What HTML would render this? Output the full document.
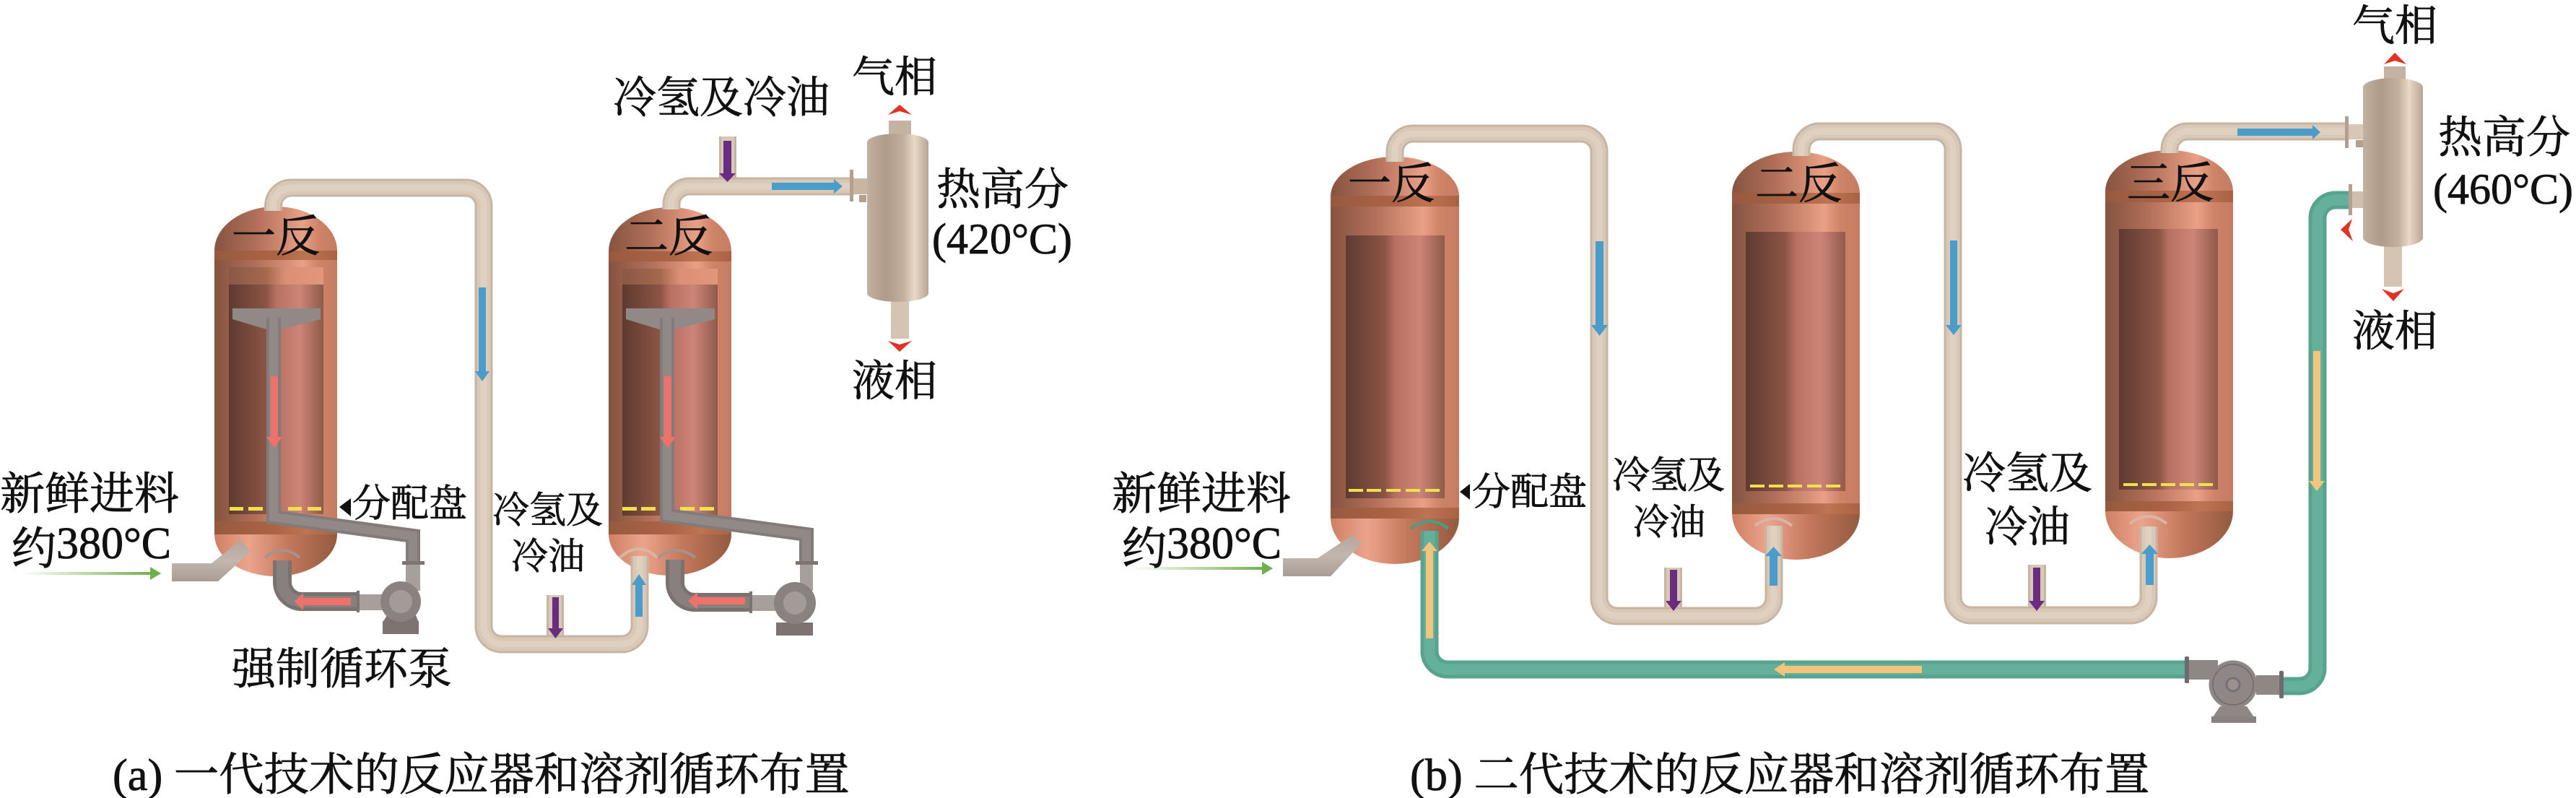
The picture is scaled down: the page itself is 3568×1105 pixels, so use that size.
<!DOCTYPE html>
<html><head><meta charset="utf-8"><style>
html,body{margin:0;padding:0;background:#fff}
svg{display:block}
text{font-family:"Liberation Serif","Noto Serif CJK SC",serif;fill:#111;stroke:#111;stroke-width:.8}
.pb1,.pb2,.pb3,.pg1,.pg2,.pc1,.pc2,.pd1,.pd2{fill:none}
.pb1{stroke:#c8b5a1;stroke-width:25}
.pb2{stroke:#d8c8b7;stroke-width:19}
.pb3{stroke:#dfd0c0;stroke-width:9}
.pg1{stroke:#57a38d;stroke-width:25}
.pg2{stroke:#65b09a;stroke-width:15}
.pc1{stroke:#837b79;stroke-width:20}
.pc2{stroke:#918988;stroke-width:12}
.pd1{stroke:#7a7270;stroke-width:26}
.pd2{stroke:#87807e;stroke-width:16}
.band{fill:url(#bd)}
.dash{fill:#f0e050}
.blue{fill:#4a9ccb}.red{fill:#f0706a}.pur{fill:#6a2c80}.yel{fill:#f2c47c}.chev{fill:#e03322}
.gray{fill:#918988}
</style></head><body>
<svg xmlns="http://www.w3.org/2000/svg" width="3568" height="1105" viewBox="0 0 3568 1105">
<defs>
<linearGradient id="bd"><stop offset="0" stop-color="#975a3f"/><stop offset=".5" stop-color="#ac6444"/><stop offset=".75" stop-color="#bd7453"/><stop offset="1" stop-color="#a96242"/></linearGradient>
<linearGradient id="rb"><stop offset="0" stop-color="#85543f"/><stop offset=".35" stop-color="#b3705a"/><stop offset=".72" stop-color="#e9a086"/><stop offset=".85" stop-color="#cf8367"/><stop offset="1" stop-color="#c47c62"/></linearGradient>
<linearGradient id="rd"><stop offset="0" stop-color="#cf7f62"/><stop offset=".28" stop-color="#eba48c"/><stop offset=".6" stop-color="#c4785b"/><stop offset="1" stop-color="#935a41"/></linearGradient>
<linearGradient id="ri"><stop offset="0" stop-color="#5f3a30"/><stop offset=".4" stop-color="#8c5545"/><stop offset=".5" stop-color="#b87062"/><stop offset=".75" stop-color="#cd8578"/><stop offset="1" stop-color="#8f5a4a"/></linearGradient>
<linearGradient id="ru"><stop offset="0" stop-color="#8a5844"/><stop offset=".4" stop-color="#a5694f"/><stop offset=".6" stop-color="#dc8f75"/><stop offset="1" stop-color="#e2967c"/></linearGradient>
<linearGradient id="sep"><stop offset="0" stop-color="#c2b1a0"/><stop offset=".3" stop-color="#af9b89"/><stop offset=".6" stop-color="#c4b09d"/><stop offset=".77" stop-color="#ead9c7"/><stop offset="1" stop-color="#b8a594"/></linearGradient>
<linearGradient id="gi"><stop offset="0" stop-color="#fff"/><stop offset=".35" stop-color="#cfe3bd"/><stop offset="1" stop-color="#6fb04e"/></linearGradient>
<linearGradient id="inl" x1="0" y1="0" x2="0" y2="1"><stop offset="0" stop-color="#b3a69e"/><stop offset=".5" stop-color="#c2b6ae"/><stop offset="1" stop-color="#a99c94"/></linearGradient>
<path id="pa1" d="M378.5 292V285A25 25 0 0 1 403.5 260H645A25 25 0 0 1 670 285V867A25 25 0 0 0 695 892H861A25 25 0 0 0 886 867V770"/>
<path id="pa2" d="M930 290V283A25 25 0 0 1 955 258H1183"/>
<path id="pb1" d="M1932 224V210A25 25 0 0 1 1957 185H2190A25 25 0 0 1 2215 210V828A25 25 0 0 0 2240 853H2432A25 25 0 0 0 2457 828V728"/>
<path id="pb2" d="M2495 216V207A25 25 0 0 1 2520 182H2680A25 25 0 0 1 2705 207V827A25 25 0 0 0 2730 852H2951A25 25 0 0 0 2976 827V729"/>
<path id="pb3" d="M3005 212V207A25 25 0 0 1 3030 182H3251"/>
<path id="g1" d="M1980 735V902A25 25 0 0 0 2005 927H3028"/>
<path id="g2" d="M3161 950H3185A25 25 0 0 0 3210 925V302A25 25 0 0 1 3235 277H3255"/>
<path id="ca1" d="M391 776V806A27 27 0 0 0 418 833H497"/>
<path id="ca2" d="M935 775V807A27 27 0 0 0 962 834H1040"/>
<path id="cb1" d="M379 440V716L572 742V778"/>
<path id="cb2" d="M924 440V714L1117 740V778"/>
</defs>
<rect width="3568" height="1105" fill="#fff"/>

<!-- ===== Reactor a1 ===== -->
<path d="M297 347A85 61 0 0 1 467 347Z" fill="url(#rb)"/>
<rect x="297" y="347" width="170" height="393" fill="url(#rb)"/>
<path d="M297 740A85 58 0 0 0 467 740Z" fill="url(#rd)"/>
<rect class="band" x="297" y="347" width="170" height="13"/>
<rect class="band" x="297" y="722" width="170" height="18"/>
<rect x="317" y="370" width="131" height="26" fill="url(#ru)"/>
<rect x="317" y="394" width="131" height="318" fill="url(#ri)"/>
<!-- ===== Reactor a2 ===== -->
<path d="M843 348A85 61 0 0 1 1013 348Z" fill="url(#rb)"/>
<rect x="843" y="348" width="170" height="392" fill="url(#rb)"/>
<path d="M843 740A85 57 0 0 0 1013 740Z" fill="url(#rd)"/>
<rect class="band" x="843" y="348" width="170" height="14"/>
<rect class="band" x="843" y="722" width="170" height="18"/>
<rect x="862" y="372" width="132" height="24" fill="url(#ru)"/>
<rect x="862" y="394" width="132" height="320" fill="url(#ri)"/>
<!-- dashes a -->
<g class="dash">
<rect x="318" y="702" width="19" height="5"/><rect x="344" y="702" width="20" height="5"/><rect x="399" y="702" width="19" height="5"/><rect x="426" y="702" width="19" height="5"/>
<rect x="862" y="702" width="20" height="5"/><rect x="888" y="702" width="20" height="5"/><rect x="942" y="702" width="20" height="5"/><rect x="969" y="702" width="20" height="5"/>
</g>

<!-- arcs a -->
<path d="M367 772Q391 752 415 772" fill="none" stroke="#a9908a" stroke-width="4"/>
<path d="M912 772Q937 752 963 772" fill="none" stroke="#a9908a" stroke-width="4"/>
<path d="M859 772Q885 748 910 772" fill="none" stroke="#d9b5a6" stroke-width="4"/>

<!-- inlet a -->
<polygon points="238,780 293,780 333,748 347,764 302,805 238,805" fill="url(#inl)"/>
<!-- funnels and circulation pipe a -->
<polygon class="gray" points="322,427 444,427 444,442 389,456 369,456 322,442"/>
<polygon class="gray" points="867,427 990,427 990,442 935,456 913,456 867,442"/>
<use href="#cb1" class="pc1"/><use href="#cb1" class="pc2"/>
<use href="#cb2" class="pc1"/><use href="#cb2" class="pc2"/>
<use href="#ca1" class="pd1"/><use href="#ca1" class="pd2"/>
<use href="#ca2" class="pd1"/><use href="#ca2" class="pd2"/>
<!-- pump a1 -->
<rect x="562" y="778" width="20" height="40" fill="#a79f9c"/>
<rect x="557" y="777" width="31" height="5" fill="#7d7472"/>
<rect x="497" y="823" width="40" height="22" fill="#a79f9c"/>
<rect x="494" y="818" width="4" height="30" fill="#7d7472"/>
<polygon points="536,852 576,852 580,862 530,862" fill="#7d7472"/>
<rect x="530" y="860" width="50" height="18" fill="#7d7472"/>
<circle cx="555" cy="833" r="28" fill="#8a8280"/>
<circle cx="555" cy="833" r="16" fill="#a39b98"/>
<!-- pump a2 -->
<rect x="1108" y="778" width="18" height="40" fill="#a79f9c"/>
<rect x="1102" y="777" width="31" height="5" fill="#7d7472"/>
<rect x="1042" y="824" width="34" height="22" fill="#a79f9c"/>
<rect x="1038" y="819" width="4" height="30" fill="#7d7472"/>
<rect x="1075" y="862" width="51" height="18" fill="#7d7472"/>
<circle cx="1101" cy="835" r="29" fill="#8a8280"/>
<circle cx="1101" cy="835" r="16" fill="#a39b98"/>

<!-- hot pipes a -->
<rect x="757" y="824" width="24" height="60" fill="#c8b5a1"/><rect x="760" y="824" width="18" height="60" fill="#d8c8b7"/>
<use href="#pa1" class="pb1"/><use href="#pa1" class="pb2"/><use href="#pa1" class="pb3"/>
<rect x="996" y="189" width="24" height="68" fill="#c8b5a1"/><rect x="999" y="189" width="18" height="68" fill="#d8c8b7"/>
<use href="#pa2" class="pb1"/><use href="#pa2" class="pb2"/><use href="#pa2" class="pb3"/>

<!-- separator a -->
<rect x="1231" y="167" width="31" height="22" fill="#c4b3a2"/>
<rect x="1234" y="415" width="25" height="54" fill="#d5c4b2"/>
<rect x="1181" y="247" width="24" height="22" fill="#c9b6a2"/>
<rect x="1177" y="235" width="5" height="44" fill="#b3a08e"/>
<rect x="1190" y="270" width="10" height="10" fill="#b3a08e"/>
<path d="M1201 197A42.5 12 0 0 1 1286 197V406A42.5 12 0 0 1 1201 406Z" fill="url(#sep)"/>

<!-- arrows a -->
<polygon class="blue" points="663,398 673,398 673,514 678,514 668,528 658,514 663,514"/>
<polygon class="blue" points="880,854 890,854 890,810 895,810 885,795 875,810 880,810"/>
<polygon class="blue" points="1069,253 1155,253 1155,248 1167,258 1155,268 1155,263 1069,263"/>
<polygon class="pur" points="765,827 774,827 774,870 780,870 769.5,884 759,870 765,870"/>
<polygon class="pur" points="1002,195 1013,195 1013,240 1019,240 1007.5,252 996,240 1002,240"/>
<polygon class="red" points="375,521 385,521 385,605 391,605 380,620 369,605 375,605"/>
<polygon class="red" points="920,521 930,521 930,605 936,605 925,620 914,605 920,605"/>
<polygon class="red" points="486,828 420,828 420,821 408,833 420,845 420,838 486,838"/>
<polygon class="red" points="1032,827 966,827 966,820 953,832 966,844 966,837 1032,837"/>
<polygon class="chev" points="1246,145 1263,159 1246,154 1230,159"/>
<polygon class="chev" points="1230,472 1246,477 1263,472 1246,487"/>
<rect x="29" y="792" width="184" height="4" fill="url(#gi)"/>
<polygon points="208,785 223,794 208,803" fill="#6fb04e"/>
<polygon points="486,690 486,715 470,702" fill="#111"/>

<!-- ===== Reactor b1 ===== -->
<path d="M1843 272A89 55 0 0 1 2021 272Z" fill="url(#rb)"/>
<rect x="1843" y="272" width="178" height="446" fill="url(#rb)"/>
<path d="M1843 717A89 64 0 0 0 2021 717Z" fill="url(#rd)"/>
<rect class="band" x="1843" y="271" width="178" height="15"/>
<rect class="band" x="1843" y="703" width="178" height="15"/>
<rect x="1864" y="326" width="137" height="364" fill="url(#ri)"/>
<!-- Reactor b2 -->
<path d="M2399 268A88.5 58 0 0 1 2576 268Z" fill="url(#rb)"/>
<rect x="2399" y="268" width="177" height="444" fill="url(#rb)"/>
<path d="M2399 711A88.5 64 0 0 0 2576 711Z" fill="url(#rd)"/>
<rect class="band" x="2399" y="267" width="177" height="15"/>
<rect class="band" x="2399" y="697" width="177" height="15"/>
<rect x="2418" y="321" width="138" height="359" fill="url(#ri)"/>
<!-- Reactor b3 -->
<path d="M2916 265A88.5 57 0 0 1 3093 265Z" fill="url(#rb)"/>
<rect x="2916" y="265" width="177" height="444" fill="url(#rb)"/>
<path d="M2916 708A88.5 65 0 0 0 3093 708Z" fill="url(#rd)"/>
<rect class="band" x="2916" y="264" width="177" height="16"/>
<rect class="band" x="2916" y="694" width="177" height="14"/>
<rect x="2935" y="317" width="137" height="361" fill="url(#ri)"/>
<!-- dashes b -->
<g class="dash">
<rect x="1868" y="677" width="20" height="4"/><rect x="1893" y="677" width="20" height="4"/><rect x="1920" y="677" width="20" height="4"/><rect x="1947" y="677" width="20" height="4"/><rect x="1974" y="677" width="20" height="4"/>
<rect x="2424" y="671" width="20" height="4"/><rect x="2450" y="671" width="20" height="4"/><rect x="2476" y="671" width="20" height="4"/><rect x="2503" y="671" width="20" height="4"/><rect x="2529" y="671" width="20" height="4"/>
<rect x="2941" y="669" width="20" height="4"/><rect x="2967" y="669" width="20" height="4"/><rect x="2993" y="669" width="20" height="4"/><rect x="3019" y="669" width="20" height="4"/><rect x="3045" y="669" width="20" height="4"/>
</g>
<!-- arcs b -->
<path d="M1954 732Q1980 712 2006 732" fill="none" stroke="#4f9c85" stroke-width="4"/>
<path d="M2431 728Q2457 708 2482 728" fill="none" stroke="#d9b5a6" stroke-width="4"/>
<path d="M2950 725Q2976 705 3001 725" fill="none" stroke="#d9b5a6" stroke-width="4"/>
<!-- inlet b -->
<polygon points="1777,773 1825,773 1873,741 1886,752 1843,798 1777,798" fill="url(#inl)"/>

<!-- hot pipes b -->
<rect x="2305" y="786" width="25" height="60" fill="#c8b5a1"/><rect x="2308" y="786" width="19" height="60" fill="#d8c8b7"/>
<rect x="2809" y="782" width="25" height="60" fill="#c8b5a1"/><rect x="2812" y="782" width="19" height="60" fill="#d8c8b7"/>
<use href="#pb1" class="pb1"/><use href="#pb1" class="pb2"/><use href="#pb1" class="pb3"/>
<use href="#pb2" class="pb1"/><use href="#pb2" class="pb2"/><use href="#pb2" class="pb3"/>
<use href="#pb3" class="pb1"/><use href="#pb3" class="pb2"/><use href="#pb3" class="pb3"/>
<!-- green -->
<use href="#g1" class="pg1"/><use href="#g1" class="pg2"/>
<use href="#g2" class="pg1"/><use href="#g2" class="pg2"/>
<!-- pump b -->
<rect x="3026" y="909" width="6" height="37" rx="2" fill="#6e6a70"/>
<rect x="3032" y="914" width="40" height="27" fill="#8f8785"/>
<rect x="3125" y="935" width="33" height="27" fill="#8f8785"/>
<rect x="3157" y="929" width="6" height="38" rx="2" fill="#6e6a70"/>
<polygon points="3075,978 3112,978 3122,993 3065,993" fill="#8f8785"/>
<rect x="3063" y="992" width="62" height="9" fill="#8a8280"/>
<circle cx="3093" cy="948" r="33.5" fill="#8f8785"/>
<circle cx="3093" cy="948" r="28" fill="#8f8785" stroke="#6e6a70" stroke-width="1.5"/>
<circle cx="3093" cy="948" r="9" fill="#9a9290" stroke="#757078" stroke-width="3"/>

<!-- separator b -->
<rect x="3302" y="92" width="30" height="22" fill="#c4b3a2"/>
<rect x="3302" y="335" width="25" height="62" fill="#d5c4b2"/>
<rect x="3253" y="172" width="28" height="21" fill="#d8c7b5"/>
<rect x="3248" y="161" width="5" height="44" fill="#b3a08e"/>
<rect x="3263" y="194" width="10" height="10" fill="#b3a08e"/>
<rect x="3257" y="265" width="24" height="23" fill="#d0bfad"/>
<rect x="3253" y="255" width="5" height="43" fill="#b3a08e"/>
<path d="M3273 121A41.5 13 0 0 1 3356 121V329A41.5 13 0 0 1 3273 329Z" fill="url(#sep)"/>

<!-- arrows b -->
<polygon class="blue" points="2210,334 2221,334 2221,450 2227,450 2215.5,465 2204,450 2210,450"/>
<polygon class="blue" points="2701,333 2711,333 2711,450 2717,450 2706,464 2695,450 2701,450"/>
<polygon class="blue" points="2451,811 2462,811 2462,770 2468,770 2456.5,757 2445,770 2451,770"/>
<polygon class="blue" points="2972,810 2983,810 2983,767 2989,767 2977.5,754 2966,767 2972,767"/>
<polygon class="blue" points="3099,178 3203,178 3203,173 3214,183 3203,193 3203,188 3099,188"/>
<polygon class="pur" points="2313,789 2323,789 2323,832 2329,832 2318,846 2307,832 2313,832"/>
<polygon class="pur" points="2816,786 2826,786 2826,832 2832,832 2821,846 2810,832 2816,832"/>
<polygon class="yel" points="1975,884 1985,884 1985,763 1991,763 1980,750 1969,763 1975,763"/>
<polygon class="yel" points="2662,922 2472,922 2472,917 2457,927 2472,937 2472,932 2662,932"/>
<polygon class="yel" points="3204,486 3214,486 3214,666 3220,666 3209,680 3198,666 3204,666"/>
<polygon class="chev" points="3317,73 3333,89 3317,84 3302,89"/>
<polygon class="chev" points="3299,400 3315,406 3330,400 3315,417"/>
<polygon class="chev" points="3258,303 3253,318 3259,334 3242,318"/>
<rect x="1567" y="785" width="186" height="4" fill="url(#gi)"/>
<polygon points="1748,778 1763,787 1748,796" fill="#6fb04e"/>
<polygon points="2036,670 2036,692 2022,681" fill="#111"/>

<!-- ===== TEXT ===== -->
<g font-size="61">
<text x="321" y="348">一反</text>
<text x="865" y="348">二反</text>
<text x="321" y="947">强制循环泵</text>
<text x="1297" y="283">热高分</text>
<text x="3377" y="211">热高分</text>
<text x="1867" y="275" font-size="60">一反</text>
<text x="2431" y="275" font-size="60">二反</text>
<text x="2946" y="274" font-size="60">三反</text>
</g>
<g font-size="62">
<text x="0" y="705">新鲜进料</text>
<text x="16" y="781">约<tspan y="773">380°C</tspan></text>
<text x="1540" y="705">新鲜进料</text>
<text x="1554" y="781">约<tspan y="773">380°C</tspan></text>
<text x="156" y="1094" font-size="62.4">(a) 一代技术的反应器和溶剂循环布置</text>
<text x="1953" y="1094" font-size="62.4">(b) 二代技术的反应器和溶剂循环布置</text>
</g>
<g font-size="53">
<text x="488" y="715">分配盘</text>
<text x="2039" y="699">分配盘</text>
</g>
<g font-size="51">
<text x="682" y="724">冷氢及</text>
<text x="708" y="788">冷油</text>
<text x="2233" y="676" font-size="52">冷氢及</text>
<text x="2262" y="740" font-size="50">冷油</text>
</g>
<g font-size="60">
<text x="849" y="156">冷氢及冷油</text>
<text x="1291" y="351">(420°C)</text>
<text x="3370" y="282">(460°C)</text>
<text x="2718" y="676">冷氢及</text>
<text x="2749" y="750" font-size="59">冷油</text>
</g>
<g font-size="59">
<text x="1180" y="127">气相</text>
<text x="1180" y="548">液相</text>
<text x="3258" y="56">气相</text>
<text x="3258" y="479">液相</text>
</g>
</svg>
</body></html>
